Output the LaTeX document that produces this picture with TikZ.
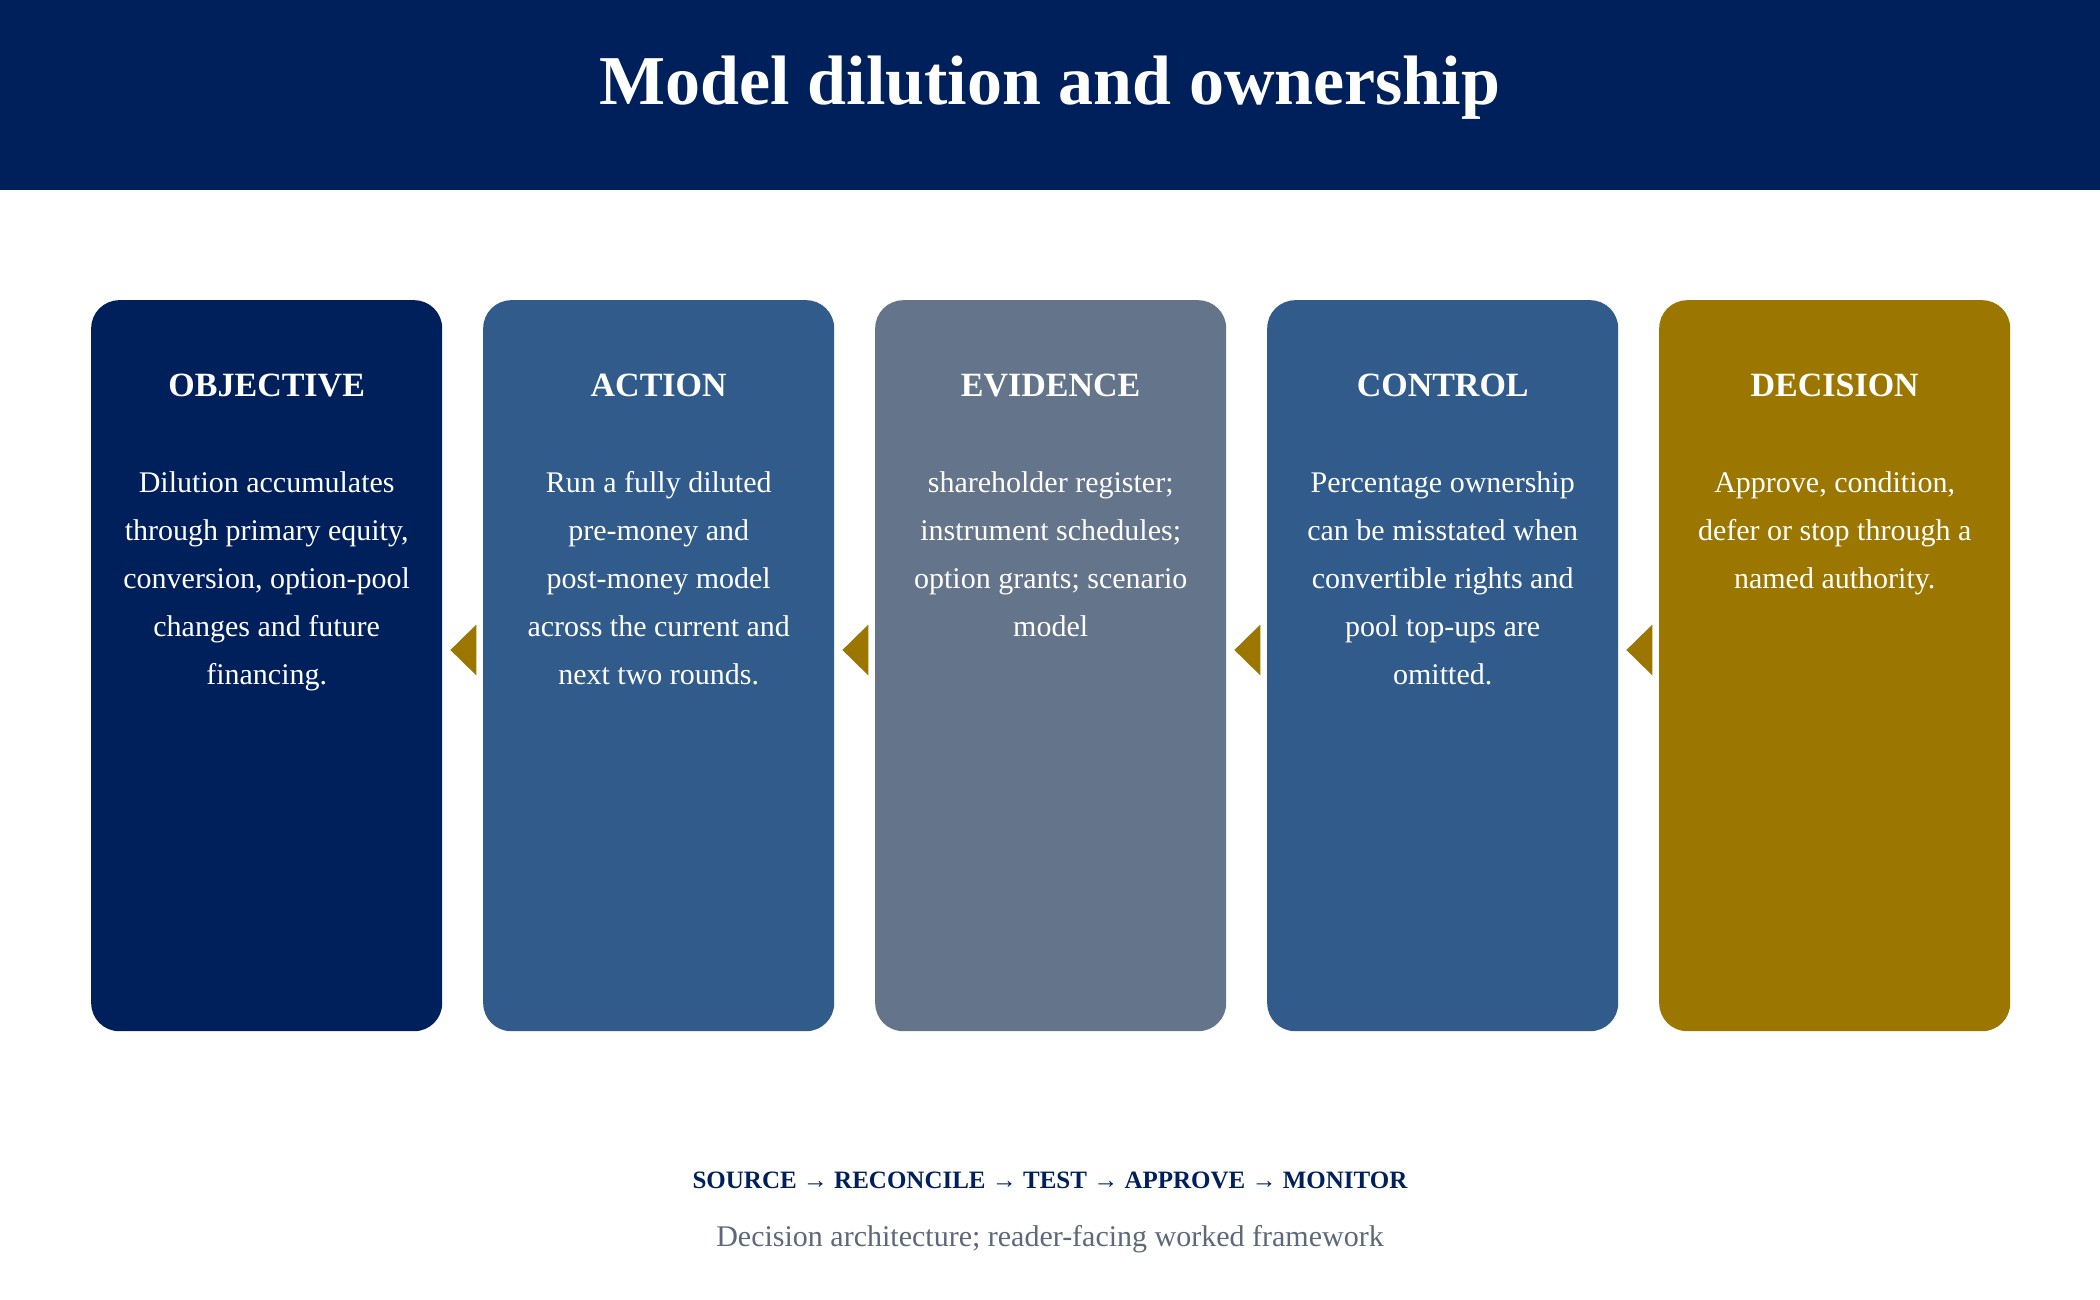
\documentclass[tikz,border=0pt]{standalone}
\usepackage{fontspec}
\setmainfont{Liberation Serif}
\usetikzlibrary{calc}
\definecolor{navy}{HTML}{00205B}
\definecolor{midblue}{HTML}{315B8B}
\definecolor{slate}{HTML}{64748B}
\definecolor{gold}{HTML}{9B7600}
\definecolor{subgray}{HTML}{5E6878}
\begin{document}
\begin{tikzpicture}[x=1pt,y=-1pt,
  card/.style={rounded corners=28pt, minimum width=351pt, minimum height=731pt, inner sep=0pt, anchor=north west, draw=none},
  cardhead/.style={text=white, font=\fontsize{34}{40}\selectfont\bfseries, anchor=base, inner sep=0pt},
  cardbody/.style={text=white, font=\fontsize{30}{48}\selectfont, align=center, anchor=base, inner sep=0pt},
  titletext/.style={text=white, font=\fontsize{70}{80}\selectfont\bfseries, anchor=base, inner sep=0pt},
  flowtext/.style={text=navy, font=\fontsize{25}{30}\selectfont\bfseries, anchor=base, inner sep=0pt},
  subtext/.style={text=subgray, font=\fontsize{30}{36}\selectfont, anchor=base, inner sep=0pt},
  marker/.style={fill=gold, draw=none}]
\useasboundingbox (0,0) rectangle (2100,1300);
\fill[white] (0,0) rectangle (2100,1300);
\node[fill=navy, minimum width=2100pt, minimum height=190pt, inner sep=0pt, anchor=north west] (header) at (0,0) {};
\node[titletext] (title) at (1050,105) {Model dilution and ownership};

\node[card, fill=navy] (c1) at (91,300) {};
\node[card, fill=midblue] (c2) at (483,300) {};
\node[card, fill=slate] (c3) at (875,300) {};
\node[card, fill=midblue] (c4) at (1267,300) {};
\node[card, fill=gold] (c5) at (1659,300) {};

\node[cardhead] (h1) at ($(c1.north)+(0,96)$) {OBJECTIVE};
\node[cardhead] (h2) at ($(c2.north)+(0,96)$) {ACTION};
\node[cardhead] (h3) at ($(c3.north)+(0,96)$) {EVIDENCE};
\node[cardhead] (h4) at ($(c4.north)+(0,96)$) {CONTROL};
\node[cardhead] (h5) at ($(c5.north)+(0,96)$) {DECISION};

% base anchor of a multi-line node lies on its last line
\node[cardbody] (b1) at ($(c1.north)+(0,384)$) {Dilution accumulates\\through primary equity,\\conversion, option-pool\\changes and future\\financing.};
\node[cardbody] (b2) at ($(c2.north)+(0,384)$) {Run a fully diluted\\pre-money and\\post-money model\\across the current and\\next two rounds.};
\node[cardbody] (b3) at ($(c3.north)+(0,336)$) {shareholder register;\\instrument schedules;\\option grants; scenario\\model};
\node[cardbody] (b4) at ($(c4.north)+(0,384)$) {Percentage ownership\\can be misstated when\\convertible rights and\\pool top-ups are\\omitted.};
\node[cardbody] (b5) at ($(c5.north)+(0,288)$) {Approve, condition,\\defer or stop through a\\named authority.};

\foreach \a in {1,2,3,4}{
  \coordinate (t\a) at ($(c\a.north east)+(8,350)$);
  \fill[marker] (t\a) -- ++(26,-25.5) -- ++(0,51) -- cycle;
}

\node[flowtext] (flow) at (1050,1188) {SOURCE → RECONCILE → TEST → APPROVE → MONITOR};
\node[subtext] (sub) at (1050,1246) {Decision architecture; reader-facing worked framework};
\end{tikzpicture}
\end{document}
